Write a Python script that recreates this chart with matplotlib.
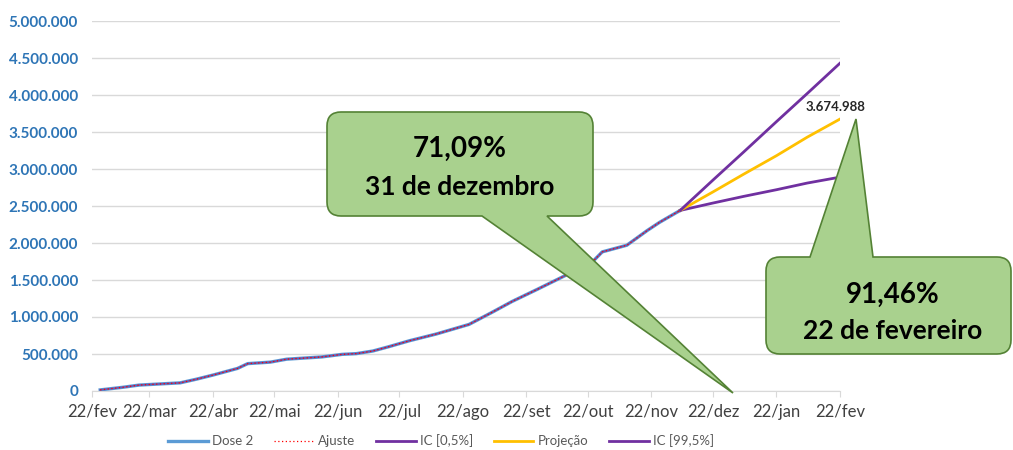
import matplotlib
matplotlib.use("Agg")
import matplotlib.pyplot as plt
from matplotlib.path import Path
from matplotlib.patches import PathPatch
import datetime

plt.rcParams["font.family"] = ["Lato", "DejaVu Sans"]

# Dose 2 acumulada (observado)
hist_dates = ["2021-02-26", "2021-03-09", "2021-03-17", "2021-03-27", "2021-04-06",
              "2021-04-14", "2021-04-22", "2021-05-04", "2021-05-09", "2021-05-20",
              "2021-05-28", "2021-06-14", "2021-06-24", "2021-07-01", "2021-07-09",
              "2021-07-17", "2021-07-27", "2021-08-09", "2021-08-25", "2021-09-05",
              "2021-09-15", "2021-09-27", "2021-10-08", "2021-10-24", "2021-10-29",
              "2021-11-10", "2021-11-13", "2021-11-20", "2021-11-26", "2021-12-06"]
dose2 = [15000, 50000, 80000, 95000, 110000,
         160000, 215000, 305000, 370000, 390000,
         430000, 460000, 495000, 505000, 540000,
         600000, 680000, 770000, 900000, 1060000,
         1210000, 1370000, 1520000, 1740000, 1880000,
         1970000, 2030000, 2170000, 2280000, 2440000]
ajuste = dose2

# projecao a partir do ultimo dado
proj_dates = ["2021-12-06", "2021-12-22", "2022-01-06", "2022-01-22", "2022-02-06", "2022-02-22"]
projecao = [2440000, 2690000, 2930000, 3180000, 3430000, 3674988]
ic_low = [2440000, 2540000, 2630000, 2720000, 2810000, 2890000]
ic_high = [2440000, 2850000, 3230000, 3640000, 4020000, 4430000]

tick_dates = ["2021-02-22", "2021-03-22", "2021-04-22", "2021-05-22", "2021-06-22",
              "2021-07-22", "2021-08-22", "2021-09-22", "2021-10-22", "2021-11-22",
              "2021-12-22", "2022-01-22", "2022-02-22"]
tick_labels = ["22/fev", "22/mar", "22/abr", "22/mai", "22/jun", "22/jul", "22/ago",
               "22/set", "22/out", "22/nov", "22/dez", "22/jan", "22/fev"]
yticks = [0, 500000, 1000000, 1500000, 2000000, 2500000, 3000000, 3500000, 4000000, 4500000, 5000000]


def to_dt(lst):
    return [datetime.datetime.strptime(s, "%Y-%m-%d") for s in lst]


def fmt_br(v):
    return f"{int(v):,}".replace(",", ".")


W, H = 1013, 450


def callout(fig, x0, y0, x1, y1, r, a, b, tip, side):
    # caixa arredondada com ponteiro (coordenadas em pixels, y para baixo)
    pts = [(x0 + r, y0)]
    codes = [Path.MOVETO]
    if side == "top":
        pts += [(a, y0), tip, (b, y0)]
        codes += [Path.LINETO] * 3
    pts += [(x1 - r, y0), (x1, y0), (x1, y0 + r), (x1, y1 - r), (x1, y1), (x1 - r, y1)]
    codes += [Path.LINETO, Path.CURVE3, Path.CURVE3, Path.LINETO, Path.CURVE3, Path.CURVE3]
    if side == "bottom":
        pts += [(b, y1), tip, (a, y1)]
        codes += [Path.LINETO] * 3
    pts += [(x0 + r, y1), (x0, y1), (x0, y1 - r), (x0, y0 + r), (x0, y0), (x0 + r, y0), (x0 + r, y0)]
    codes += [Path.LINETO, Path.CURVE3, Path.CURVE3, Path.LINETO, Path.CURVE3, Path.CURVE3, Path.CLOSEPOLY]
    verts = [(x / W, 1 - y / H) for x, y in pts]
    patch = PathPatch(Path(verts, codes), facecolor="#A9D18E", edgecolor="#548235",
                      lw=1.2, transform=fig.transFigure, zorder=10)
    fig.patches.append(patch)


fig = plt.figure(figsize=(10.13, 4.5), dpi=100)
ax = fig.add_axes([92 / W, 1 - 391 / H, (840 - 92) / W, (391 - 21) / H])

hd = to_dt(hist_dates)
pdts = to_dt(proj_dates)

ax.plot(hd, dose2, color="#5B9BD5", lw=2.4, label="Dose 2", zorder=3)
ax.plot(hd, ajuste, color="#7030A0", lw=1.2, alpha=0.6, zorder=4)
ax.plot(hd, ajuste, color="#FF0000", lw=0.9, ls=(0, (1, 2)), label="Ajuste", zorder=5)
ax.plot(pdts, ic_low, color="#7030A0", lw=2.0, label="IC [0,5%]", zorder=4)
ax.plot(pdts, projecao, color="#FFC000", lw=2.0, label="Projeção", zorder=4)
ax.plot(pdts, ic_high, color="#7030A0", lw=2.0, label="IC [99,5%]", zorder=4)

ax.annotate(fmt_br(projecao[-1]), (pdts[-1], projecao[-1]), xytext=(-3, 4),
            textcoords="offset points", ha="center", va="bottom",
            fontsize=9.5, fontweight="bold", color="#262626")

ax.set_xlim(to_dt(["2021-02-22"])[0], to_dt(["2022-02-22"])[0])
ax.set_ylim(0, 5000000)
ax.set_xticks(to_dt(tick_dates))
ax.set_xticklabels(tick_labels, fontsize=12, color="#404040")
ax.set_yticks(yticks)
ax.set_yticklabels([fmt_br(v) for v in yticks], fontsize=11, color="#2E75B6", fontweight="bold")
ax.tick_params(axis="y", length=0, pad=10)
ax.tick_params(axis="x", length=4, color="#D9D9D9", pad=5)
ax.grid(axis="y", color="#D9D9D9", lw=1)
ax.set_axisbelow(True)
for s in ["top", "right", "left"]:
    ax.spines[s].set_visible(False)
ax.spines["bottom"].set_color("#D9D9D9")

leg = fig.legend(loc="center", bbox_to_anchor=(441 / W, 1 - 441 / H), ncol=5,
                 frameon=False, fontsize=9.5, handlelength=3, columnspacing=1.6,
                 handletextpad=0.3)
for t in leg.get_texts():
    t.set_color("#595959")

# balões de texto
callout(fig, 327, 112, 593, 216, 14, 482, 547, (733, 393), "bottom")
fig.text(460 / W, 1 - 149 / H, "71,09%", ha="center", va="center",
         fontsize=20, fontweight="bold", zorder=11)
fig.text(460 / W, 1 - 187 / H, "31 de dezembro", ha="center", va="center",
         fontsize=19, fontweight="bold", zorder=11)

callout(fig, 766, 257, 1011, 354, 14, 810, 873, (856, 119), "top")
fig.text(893 / W, 1 - 295 / H, "91,46%", ha="center", va="center",
         fontsize=20, fontweight="bold", zorder=11)
fig.text(893 / W, 1 - 331 / H, "22 de fevereiro", ha="center", va="center",
         fontsize=19, fontweight="bold", zorder=11)

plt.savefig("out.png", dpi=100)
